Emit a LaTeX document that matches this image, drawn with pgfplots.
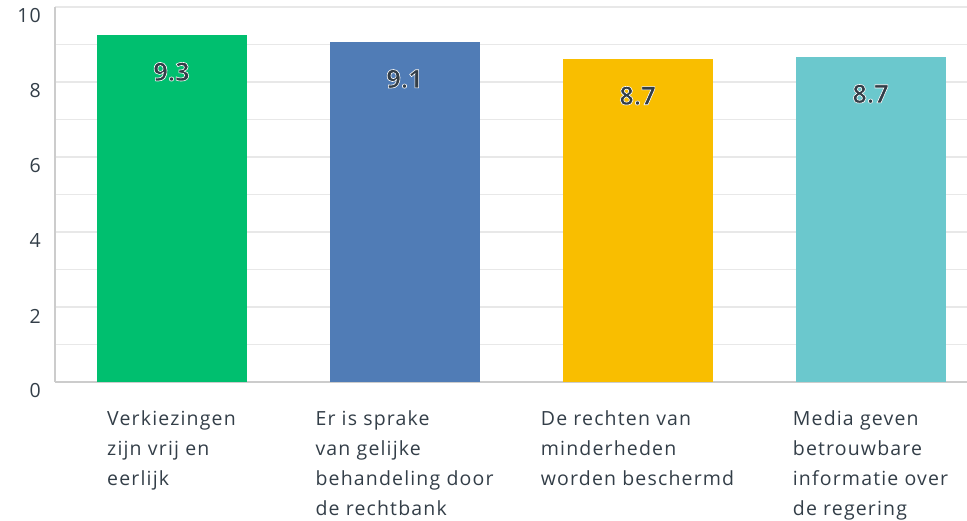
\documentclass[border=0pt]{standalone}
\usepackage{pgfplots}
\pgfplotsset{compat=1.18}
\usepackage{fontspec}
\setmainfont[LetterSpace=6]{Open Sans}
\newfontfamily\valfont{Open Sans}
\definecolor{txt}{HTML}{333E48}
\definecolor{cgreen}{HTML}{00BF6F}
\definecolor{cblue}{HTML}{507CB6}
\definecolor{cyellow}{HTML}{F9BE00}
\definecolor{cteal}{HTML}{6BC8CD}
\definecolor{gridc}{HTML}{E8E8E8}
\definecolor{axc}{HTML}{CCCCCC}
\newcommand{\olt}[1]{\leavevmode\textcolor{txt}{\special{pdf:literal direct 2 Tr 0.6 w 1 1 1 RG}#1\special{pdf:literal direct 0 Tr}}}
\begin{document}
\begin{tikzpicture}
\useasboundingbox (-55pt,-139pt) rectangle (912pt,382pt);
\begin{axis}[
  at={(0pt,0pt)}, anchor=south west,
  scale only axis, width=912pt, height=375pt,
  xmin=-0.5, xmax=3.414, ymin=0, ymax=10,
  axis x line*=bottom, axis y line*=left,
  axis line style={draw=axc, line width=1.4pt},
  xtick={0,1,2,3},
  xticklabels={{Verkiezingen\\zijn vrij en\\eerlijk},{Er is sprake\\van gelijke\\behandeling door\\de rechtbank},{De rechten van\\minderheden\\worden beschermd},{Media geven\\betrouwbare\\informatie over\\de regering}},
  xticklabel style={anchor=north, align=left, inner sep=0pt, yshift=-28pt, font=\fontsize{19.5}{30}\selectfont, text=txt},
  ytick={0,2,...,10}, minor ytick={1,3,...,9},
  yticklabel style={anchor=east, inner sep=0pt, xshift=-14pt, yshift=-9pt, font=\fontsize{19.5}{24}\selectfont, text=txt},
  /pgf/number format/assume math mode=true,
  major tick length=0pt, minor tick length=0pt,
  ymajorgrids, yminorgrids,
  major grid style={draw=gridc, line width=1.3pt},
  minor grid style={draw=gridc, line width=1.3pt},
  ybar, bar width=150pt, bar shift=0pt,
  point meta=explicit symbolic,
  nodes near coords,
  every node near coord/.append style={anchor=center, yshift=-37pt, font=\valfont\bfseries\fontsize{25.5}{30}\selectfont},
  nodes near coords={\olt{\pgfplotspointmeta}},
]
\addplot[fill=cgreen, draw=none] coordinates {(0,9.26) [9.3]};
\addplot[fill=cblue, draw=none] coordinates {(1,9.07) [9.1]};
\addplot[fill=cyellow, draw=none] coordinates {(2,8.62) [8.7]};
\addplot[fill=cteal, draw=none] coordinates {(3,8.67) [8.7]};
\end{axis}
\end{tikzpicture}
\end{document}
